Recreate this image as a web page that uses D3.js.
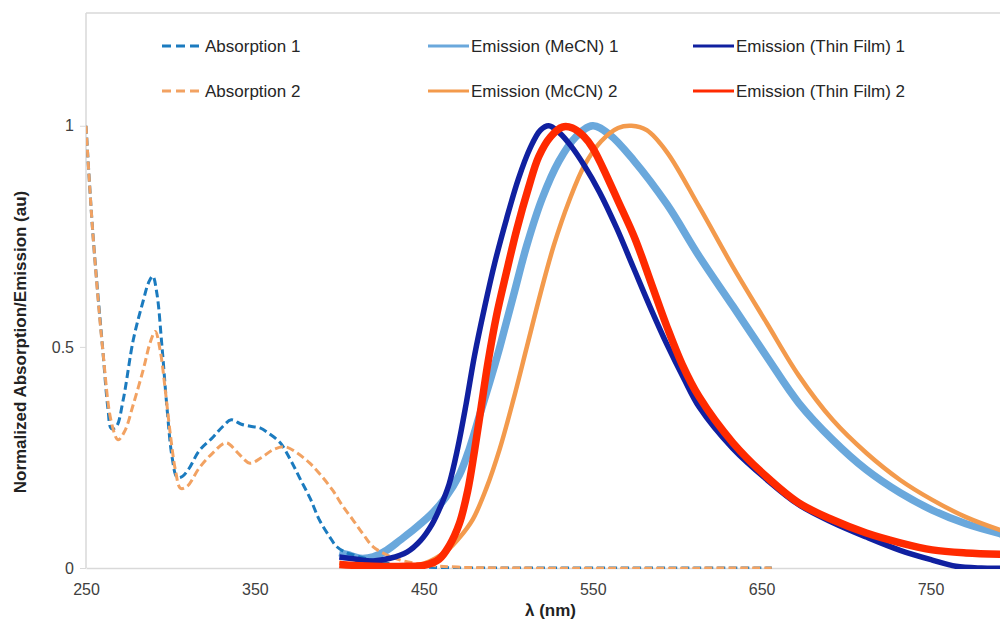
<!DOCTYPE html>
<html>
<head>
<meta charset="utf-8">
<script src="https://cdn.jsdelivr.net/npm/d3@7/dist/d3.min.js"></script>
<style>
  html, body { margin: 0; padding: 0; background: #fff; }
  svg { display: block; font-family: "Liberation Sans", Arial, sans-serif; }
</style>
</head>
<body>
<svg id="chart" width="1000" height="623"></svg>
<script>
// ---- data (wavelength nm, normalized value) ----
const seriesNames = ["Absorption 1", "Absorption 2", "Emission (MeCN) 1", "Emission (McCN) 2", "Emission (Thin Film) 1", "Emission (Thin Film) 2"];
const xTicks = [250, 350, 450, 550, 650, 750];
const yTicks = [0, 0.5, 1];
const yTickLabels = ["0", "0.5", "1"];

const absorption1 = [[250,1.0],[254,0.76],[260,0.49],[263,0.36],[265,0.315],[268,0.32],[272,0.38],[278,0.516],[284,0.606],[287,0.645],[289.5,0.66],[292,0.62],[295,0.5],[298,0.36],[301,0.25],[304,0.205],[307,0.207],[311,0.225],[317,0.265],[325,0.295],[331,0.32],[336,0.335],[342,0.325],[348,0.32],[353,0.317],[358,0.305],[365,0.283],[371,0.245],[377,0.2],[383,0.155],[388,0.11],[394,0.072],[398.5,0.048],[404,0.035],[408,0.03],[415,0.022],[424,0.014],[435,0.006],[450,0.002],[480,0],[550,0],[656,0]];
const absorption2 = [[250,1.0],[254,0.76],[260,0.49],[265,0.33],[269,0.29],[273,0.31],[278,0.37],[284,0.45],[288,0.51],[291,0.535],[294,0.49],[297,0.4],[300,0.3],[303,0.22],[306,0.18],[310,0.185],[317,0.226],[325,0.26],[333,0.283],[340,0.26],[347,0.237],[354,0.25],[361,0.268],[368,0.274],[375,0.26],[382.5,0.237],[389,0.21],[396,0.176],[402,0.14],[408,0.109],[414,0.077],[420,0.048],[428,0.03],[436,0.018],[452,0.007],[470,0.002],[500,0],[656,0]];
const emissionMeCN1 = [[400,0.035],[405,0.03],[412,0.022],[420,0.025],[428,0.04],[436,0.063],[445,0.09],[455,0.124],[463,0.16],[471,0.21],[477,0.27],[483,0.345],[489,0.42],[495,0.5],[503,0.615],[511,0.73],[520,0.835],[530,0.92],[540,0.975],[550,1.0],[560,0.98],[574,0.923],[594,0.822],[613,0.705],[633,0.592],[653,0.478],[672,0.373],[692,0.29],[712,0.222],[732,0.17],[751,0.131],[771,0.1],[791,0.078],[800,0.07]];
const emissionMeCN2 = [[400,0.012],[410,0.006],[420,0.003],[430,0.003],[440,0.005],[450,0.01],[457,0.022],[464,0.04],[471,0.068],[479,0.11],[487,0.18],[495,0.27],[503,0.38],[511,0.5],[519,0.62],[527,0.73],[536,0.83],[545,0.91],[555,0.965],[565,0.995],[573,1.0],[582,0.99],[594,0.94],[613,0.817],[633,0.681],[653,0.554],[672,0.435],[692,0.335],[712,0.26],[732,0.199],[751,0.154],[771,0.115],[791,0.086],[800,0.075]];
const emissionFilm1 = [[400,0.025],[410,0.02],[420,0.016],[430,0.022],[440,0.036],[448,0.062],[455,0.1],[460,0.14],[465,0.19],[470,0.27],[475,0.37],[480,0.48],[486,0.59],[492,0.69],[499,0.79],[506,0.88],[513,0.95],[519,0.99],[524,1.0],[530,0.985],[537,0.955],[545,0.91],[554,0.85],[564,0.77],[574,0.68],[584,0.59],[594,0.505],[604,0.428],[613,0.364],[633,0.27],[653,0.2],[672,0.143],[692,0.103],[712,0.07],[732,0.04],[751,0.018],[765,0.004],[780,0],[800,0]];
const emissionFilm2 = [[400,0.008],[420,0.004],[440,0.004],[450,0.006],[459,0.02],[465,0.05],[471,0.1],[476,0.175],[480,0.265],[484,0.365],[488,0.465],[493,0.57],[499,0.67],[505,0.765],[512,0.86],[518,0.93],[525,0.975],[532,0.997],[538,0.995],[545,0.975],[550,0.95],[556,0.905],[565,0.83],[575,0.745],[585,0.64],[594,0.545],[603,0.46],[613,0.387],[633,0.283],[653,0.206],[672,0.147],[692,0.109],[712,0.079],[732,0.057],[751,0.041],[771,0.034],[800,0.03]];

const colors = ["#1b7bbf", "#f2a262", "#6aa8dc", "#f39a4c", "#1020a0", "#ff2a00"];

const svg = d3.select("#chart");
const x = d3.scaleLinear().domain([250, 800]).range([86, 1015]);
const y = d3.scaleLinear().domain([0, 1.255]).range([568, 13]);

// frame
svg.append("line").attr("x1", 86).attr("x2", 1000).attr("y1", y(1.255)).attr("y2", y(1.255))
  .attr("stroke", "#d9d9d9").attr("stroke-width", 1.5);

// axes
const yAxis = svg.append("g").attr("transform", `translate(${x(250)},0)`)
  .call(d3.axisLeft(y).tickValues(yTicks).tickFormat((d, i) => yTickLabels[i]).tickSize(6).tickPadding(6));
yAxis.select(".domain").attr("stroke", "#d9d9d9").attr("stroke-width", 1.5).attr("d", `M0,${y(0)}V${y(1.255)}`);
yAxis.selectAll(".tick line").attr("stroke", "#d9d9d9");
yAxis.selectAll(".tick text").attr("fill", "#404040").style("font-size", "16px");

const xAxis = svg.append("g").attr("transform", `translate(0,${y(0)})`)
  .call(d3.axisBottom(x).tickValues(xTicks).tickFormat(d3.format("d")).tickSize(0).tickPadding(16));
xAxis.select(".domain").attr("stroke", "#d9d9d9").attr("stroke-width", 1.5);
xAxis.selectAll(".tick text").attr("fill", "#404040").style("font-size", "16px");

// axis titles
svg.append("text").attr("x", x(525)).attr("y", 616).attr("text-anchor", "middle")
  .style("font-size", "17px").style("font-weight", "bold").attr("fill", "#222").text("λ (nm)");
svg.append("text").attr("transform", `translate(26,342) rotate(-90)`).attr("text-anchor", "middle")
  .style("font-size", "17px").style("font-weight", "bold").attr("fill", "#222").text("Normalized Absorption/Emission (au)");

// lines
const line = d3.line().x(d => x(d[0])).y(d => y(d[1])).curve(d3.curveCatmullRom.alpha(0.5));
svg.append("clipPath").attr("id", "clip").append("rect")
  .attr("x", 86).attr("y", 13).attr("width", 930).attr("height", 556);
const plot = svg.append("g").attr("clip-path", "url(#clip)");

const draws = [
  {data: emissionMeCN1, c: colors[2], w: 7.5, dash: null},
  {data: emissionMeCN2, c: colors[3], w: 4.5, dash: null},
  {data: absorption1, c: colors[0], w: 3, dash: "8,4"},
  {data: absorption2, c: colors[1], w: 3, dash: "8,4"},
  {data: emissionFilm1, c: colors[4], w: 5.5, dash: null},
  {data: emissionFilm2, c: colors[5], w: 7.5, dash: null}
];
draws.forEach(s => {
  plot.append("path").datum(s.data).attr("d", line)
    .attr("fill", "none").attr("stroke", s.c).attr("stroke-width", s.w)
    .attr("stroke-linejoin", "round")
    .attr("stroke-dasharray", s.dash);
});

// legend
const legCols = [162, 428, 693];
const legRows = [46, 91];
const legOrder = [[0, 2, 4], [1, 3, 5]];
legOrder.forEach((row, ri) => {
  row.forEach((si, ci) => {
    const lx = legCols[ci], ly = legRows[ri];
    const isDash = si < 2;
    svg.append("line").attr("x1", lx).attr("x2", lx + 41).attr("y1", ly).attr("y2", ly)
      .attr("stroke", colors[si]).attr("stroke-width", 3)
      .attr("stroke-dasharray", isDash ? "9,5" : null);
    svg.append("text").attr("x", lx + 43).attr("y", ly + 6)
      .style("font-size", "17px").attr("fill", "#262626").text(seriesNames[si]);
  });
});
</script>
</body>
</html>
